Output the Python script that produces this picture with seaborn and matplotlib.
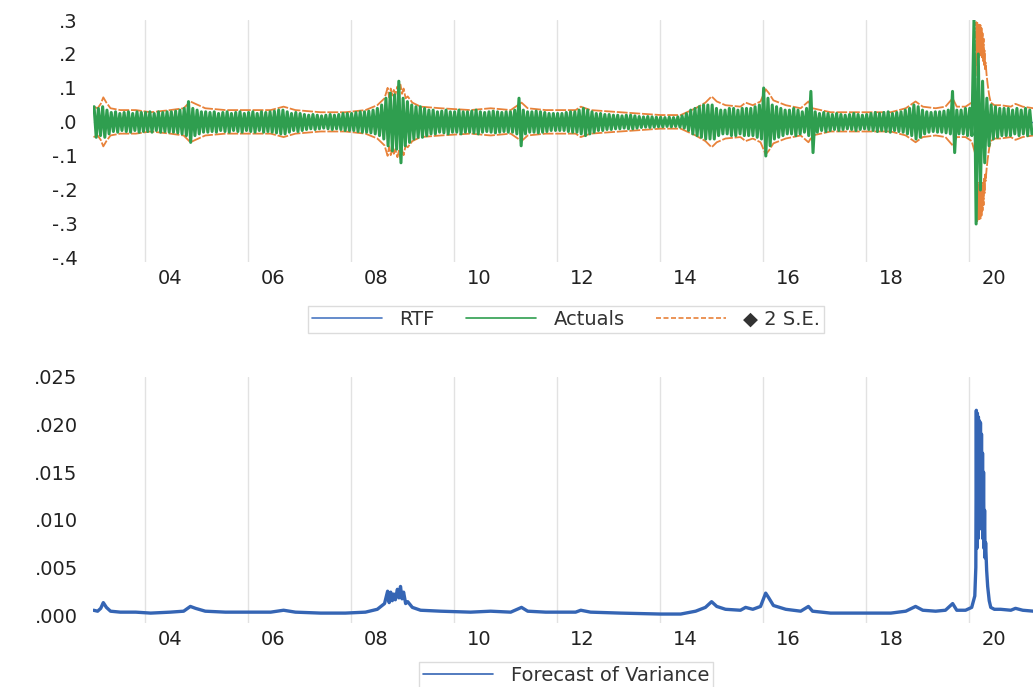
import numpy as np
import pandas as pd
import seaborn as sns
import matplotlib.pyplot as plt

actual_swing = [
    0.045, 0.04, 0.045, 0.035, 0.028, 0.03, 0.025, 0.028, 0.03, 0.025, 0.03, 0.028,   # 2003
    0.028, 0.03, 0.025, 0.03, 0.028, 0.03, 0.03, 0.032, 0.035, 0.04, 0.06, 0.04,      # 2004
    0.035, 0.03, 0.03, 0.028, 0.03, 0.025, 0.028, 0.03, 0.025, 0.028, 0.03, 0.025,    # 2005
    0.028, 0.03, 0.025, 0.03, 0.028, 0.03, 0.032, 0.035, 0.035, 0.03, 0.025, 0.028,   # 2006
    0.025, 0.022, 0.02, 0.022, 0.02, 0.018, 0.02, 0.022, 0.02, 0.022, 0.025, 0.025,   # 2007
    0.025, 0.028, 0.03, 0.03, 0.032, 0.035, 0.04, 0.05, 0.07, 0.085, 0.08, 0.12,      # 2008
    0.07, 0.06, 0.05, 0.045, 0.045, 0.04, 0.035, 0.035, 0.03, 0.032, 0.035, 0.03,     # 2009
    0.03, 0.035, 0.03, 0.03, 0.032, 0.035, 0.03, 0.028, 0.03, 0.032, 0.03, 0.028,     # 2010
    0.03, 0.03, 0.035, 0.07, 0.035, 0.03, 0.03, 0.032, 0.03, 0.028, 0.025, 0.025,     # 2011
    0.025, 0.025, 0.028, 0.03, 0.03, 0.035, 0.04, 0.035, 0.03, 0.025, 0.025, 0.022,   # 2012
    0.022, 0.02, 0.02, 0.018, 0.02, 0.02, 0.018, 0.016, 0.015, 0.016, 0.015, 0.014,   # 2013
    0.014, 0.013, 0.014, 0.013, 0.015, 0.018, 0.025, 0.035, 0.04, 0.045, 0.05, 0.05,  # 2014
    0.05, 0.04, 0.035, 0.035, 0.04, 0.04, 0.035, 0.04, 0.04, 0.04, 0.045, 0.05,       # 2015
    0.1, 0.07, 0.05, 0.045, 0.04, 0.035, 0.035, 0.04, 0.035, 0.03, 0.04, 0.09,        # 2016
    0.03, 0.025, 0.028, 0.025, 0.022, 0.025, 0.022, 0.02, 0.022, 0.025, 0.022, 0.02,  # 2017
    0.022, 0.025, 0.028, 0.025, 0.028, 0.03, 0.025, 0.028, 0.03, 0.035, 0.04, 0.05,   # 2018
    0.045, 0.035, 0.03, 0.028, 0.03, 0.03, 0.032, 0.035, 0.09, 0.035, 0.035, 0.04,    # 2019
    0.04, 0.3, 0.2, 0.12, 0.07, 0.05, 0.045, 0.04, 0.04, 0.04, 0.035, 0.04,           # 2020
    0.035, 0.04, 0.035,                                                               # 2021
]

# forecast of variance (bottom panel), decimal years and values
var_years = [
    2003.01, 2003.09, 2003.15, 2003.20, 2003.26, 2003.34, 2003.53, 2003.83,
    2004.12, 2004.50, 2004.76, 2004.89, 2004.99, 2005.18, 2005.57,
    2006.06, 2006.45, 2006.70, 2006.93, 2007.42, 2007.90,
    2008.29, 2008.52, 2008.66, 2008.72, 2008.75, 2008.78, 2008.81, 2008.84, 2008.87,
    2008.91, 2008.94, 2008.97, 2009.00, 2009.03, 2009.07, 2009.11, 2009.20, 2009.36, 2009.75,
    2010.33, 2010.72, 2011.11, 2011.32, 2011.44, 2011.79, 2012.37, 2012.47, 2012.66, 2013.24,
    2014.02, 2014.41, 2014.70, 2014.89, 2015.01, 2015.11, 2015.28, 2015.57, 2015.67,
    2015.81, 2015.96, 2016.06, 2016.12, 2016.21, 2016.45, 2016.74, 2016.89, 2016.97,
    2017.32, 2017.90, 2018.49, 2018.78, 2018.97, 2019.11, 2019.36, 2019.55, 2019.69, 2019.77, 2019.94,
    2020.06, 2020.12, 2020.14, 2020.15, 2020.16, 2020.17, 2020.18, 2020.19, 2020.20,
    2020.21, 2020.22, 2020.23, 2020.24, 2020.25, 2020.26, 2020.27, 2020.28, 2020.29,
    2020.30, 2020.31, 2020.32, 2020.33, 2020.35, 2020.37, 2020.40, 2020.43, 2020.50,
    2020.62, 2020.82, 2020.91, 2021.05, 2021.26,
]
var_values = [
    0.0005, 0.0004, 0.0007, 0.0013, 0.0008, 0.0004, 0.0003, 0.0003,
    0.0002, 0.0003, 0.0004, 0.0009, 0.0007, 0.0004, 0.0003,
    0.0003, 0.0003, 0.0005, 0.0003, 0.0002, 0.0002,
    0.0003, 0.0006, 0.0012, 0.0025, 0.0013, 0.0024, 0.0015, 0.0022, 0.0016,
    0.0027, 0.0018, 0.0030, 0.0017, 0.0024, 0.0012, 0.0014, 0.0008, 0.0005, 0.0004,
    0.0003, 0.0004, 0.0003, 0.0008, 0.0004, 0.0003, 0.0003, 0.0005, 0.0003, 0.0002,
    0.0001, 0.0001, 0.0004, 0.0008, 0.0014, 0.0009, 0.0006, 0.0005, 0.0008,
    0.0006, 0.0009, 0.0023, 0.0018, 0.0010, 0.0006, 0.0004, 0.0009, 0.0004,
    0.0002, 0.0002, 0.0002, 0.0004, 0.0009, 0.0005, 0.0004, 0.0005, 0.0012, 0.0005, 0.0005,
    0.0008, 0.0020, 0.0050, 0.0215, 0.0070, 0.0212, 0.0080, 0.0208, 0.0090,
    0.0204, 0.0095, 0.0202, 0.0100, 0.0190, 0.0090, 0.0170, 0.0080, 0.0150,
    0.0070, 0.0110, 0.0060, 0.0076, 0.0047, 0.0030, 0.0015, 0.0008, 0.0006,
    0.0006, 0.0005, 0.0007, 0.0005, 0.0004,
]
rtf_mean = 0.0004   # mean forecast, flat line

top_ticks = [0.3, 0.2, 0.1, 0.0, -0.1, -0.2, -0.3, -0.4]
top_labels = [".3", ".2", ".1", ".0", "-.1", "-.2", "-.3", "-.4"]
bot_ticks = [0.025, 0.020, 0.015, 0.010, 0.005, 0.000]
bot_labels = [".025", ".020", ".015", ".010", ".005", ".000"]
grid_years = [2004, 2006, 2008, 2010, 2012, 2014, 2016, 2018, 2020]
year_labels = ["04", "06", "08", "10", "12", "14", "16", "18", "20"]

# zigzag the actuals: an up and a down stroke inside each month
act_x, act_y = [], []
for i, a in enumerate(actual_swing):
    act_x += [2003 + (i + 0.25) / 12, 2003 + (i + 0.75) / 12]
    act_y += [a, -a]
actuals = pd.DataFrame({"year": act_x, "value": act_y})

fc = pd.DataFrame({"year": var_years, "var": var_values})
fc["rtf"] = rtf_mean
fc["upper"] = fc["rtf"] + 2 * np.sqrt(fc["var"])
fc["lower"] = fc["rtf"] - 2 * np.sqrt(fc["var"])

sns.set_style("white")
plt.rcParams["font.family"] = ["DejaVu Sans"]
plt.rcParams["font.size"] = 14

c_rtf = "#4a78c2"
c_act = "#2f9e4f"
c_se = "#e8823a"
c_var = "#3565b4"

W, H = 1033, 687
fig = plt.figure(figsize=(W / 100, H / 100), dpi=100)
ax1 = fig.add_axes([93 / W, 1 - 262 / H, 940 / W, 242 / H])
ax2 = fig.add_axes([93 / W, 1 - 623 / H, 940 / W, 246 / H])

# top panel
sns.lineplot(data=fc, x="year", y="upper", ax=ax1, color=c_se, lw=1.3,
             estimator=None, sort=False)
h_se = ax1.lines[-1]
h_se.set_dashes([6, 1])
sns.lineplot(data=fc, x="year", y="lower", ax=ax1, color=c_se, lw=1.3,
             estimator=None, sort=False)
ax1.lines[-1].set_dashes([6, 1])
sns.lineplot(data=fc, x="year", y="rtf", ax=ax1, color=c_rtf, lw=1,
             estimator=None, sort=False)
h_rtf = ax1.lines[-1]
sns.lineplot(data=actuals, x="year", y="value", ax=ax1, color=c_act, lw=2.2,
             estimator=None, sort=False)
h_act = ax1.lines[-1]

# bottom panel
sns.lineplot(data=fc, x="year", y="var", ax=ax2, color=c_var, lw=2.4,
             estimator=None, sort=False)
h_var = ax2.lines[-1]

mid_years = [y + 0.5 for y in grid_years]
for ax, ticks, labels, lim in [(ax1, top_ticks, top_labels, (-0.4118, 0.3)),
                               (ax2, bot_ticks, bot_labels, (-0.00084, 0.025))]:
    ax.set_xlim(2003.0, 2021.25)
    ax.set_ylim(*lim)
    ax.set_yticks(ticks)
    ax.set_yticklabels(labels)
    ax.set_xticks(grid_years)
    ax.set_xticklabels([])
    ax.set_xticks(mid_years, minor=True)
    ax.set_xticklabels(year_labels, minor=True)
    ax.tick_params(which="both", length=0, labelcolor="#222222", labelsize=14)
    ax.tick_params(axis="y", pad=11)
    ax.tick_params(axis="x", which="minor", pad=5)
    ax.grid(axis="x", which="major", color="#e2e2e2", lw=1)
    ax.grid(axis="y", visible=False)
    ax.set_xlabel("")
    ax.set_ylabel("")
    for s in ax.spines.values():
        s.set_visible(False)

leg_kw = dict(frameon=True, fancybox=False, edgecolor="#dcdcdc", framealpha=1,
              handlelength=3.6, handletextpad=0.9, columnspacing=1.6,
              borderpad=0.2, borderaxespad=0, fontsize=14, labelcolor="#333333")
leg1 = fig.legend([h_rtf, h_act, h_se], ["RTF", "Actuals", "\u25c6 2 S.E."], ncol=3,
                  loc="upper center", bbox_to_anchor=(566 / W, 1 - 306 / H), **leg_kw)
leg2 = fig.legend([h_var], ["Forecast of Variance"], ncol=1,
                  loc="upper center", bbox_to_anchor=(566 / W, 1 - 662 / H), **leg_kw)
for leg in (leg1, leg2):
    leg.get_frame().set_linewidth(1)
    for ln in leg.get_lines():
        ln.set_linewidth(1.2)
leg1.get_lines()[2].set_dashes([3, 1.5])

fig.savefig("out.png", dpi=100)
